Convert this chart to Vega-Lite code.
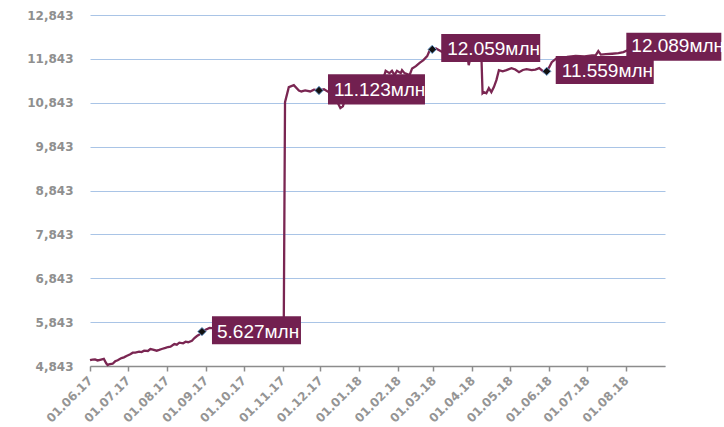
{
  "$schema": "https://vega.github.io/schema/vega-lite/v6.json",
  "autosize": {"type": "none"},
  "padding": {"left": 90, "top": 15, "right": 59, "bottom": 61},
  "width": 575,
  "height": 351,
  "background": "white",
  "view": {"stroke": null},
  "datasets": {
    "series": [
      {"date": "2017-06-01", "value": 4975}, {"date": "2017-06-03", "value": 4990}, {"date": "2017-06-05", "value": 4995},
      {"date": "2017-06-07", "value": 4970}, {"date": "2017-06-09", "value": 4985}, {"date": "2017-06-12", "value": 5005},
      {"date": "2017-06-14", "value": 4900}, {"date": "2017-06-15", "value": 4866}, {"date": "2017-06-16", "value": 4880},
      {"date": "2017-06-19", "value": 4895}, {"date": "2017-06-21", "value": 4950}, {"date": "2017-06-23", "value": 4975},
      {"date": "2017-06-26", "value": 5025}, {"date": "2017-06-28", "value": 5040}, {"date": "2017-06-30", "value": 5071},
      {"date": "2017-07-03", "value": 5110}, {"date": "2017-07-05", "value": 5146}, {"date": "2017-07-07", "value": 5150},
      {"date": "2017-07-10", "value": 5169}, {"date": "2017-07-12", "value": 5160}, {"date": "2017-07-14", "value": 5192},
      {"date": "2017-07-17", "value": 5185}, {"date": "2017-07-19", "value": 5230}, {"date": "2017-07-21", "value": 5215},
      {"date": "2017-07-24", "value": 5192}, {"date": "2017-07-26", "value": 5210}, {"date": "2017-07-28", "value": 5230},
      {"date": "2017-07-31", "value": 5255}, {"date": "2017-08-02", "value": 5276}, {"date": "2017-08-04", "value": 5283},
      {"date": "2017-08-07", "value": 5344}, {"date": "2017-08-09", "value": 5330}, {"date": "2017-08-11", "value": 5374},
      {"date": "2017-08-14", "value": 5360}, {"date": "2017-08-16", "value": 5397}, {"date": "2017-08-18", "value": 5385},
      {"date": "2017-08-21", "value": 5419}, {"date": "2017-08-23", "value": 5481}, {"date": "2017-08-25", "value": 5526},
      {"date": "2017-08-28", "value": 5580}, {"date": "2017-08-29", "value": 5627}, {"date": "2017-08-31", "value": 5660},
      {"date": "2017-09-04", "value": 5710}, {"date": "2017-09-12", "value": 5690}, {"date": "2017-09-20", "value": 5720},
      {"date": "2017-10-01", "value": 5740}, {"date": "2017-10-10", "value": 5720}, {"date": "2017-10-20", "value": 5760},
      {"date": "2017-10-31", "value": 5780}, {"date": "2017-11-02", "value": 5790}, {"date": "2017-11-03", "value": 10857},
      {"date": "2017-11-06", "value": 11199}, {"date": "2017-11-10", "value": 11244}, {"date": "2017-11-14", "value": 11120},
      {"date": "2017-11-16", "value": 11100}, {"date": "2017-11-19", "value": 11125}, {"date": "2017-11-23", "value": 11100},
      {"date": "2017-11-26", "value": 11140}, {"date": "2017-11-30", "value": 11123}, {"date": "2017-12-04", "value": 11150},
      {"date": "2017-12-08", "value": 11080}, {"date": "2017-12-13", "value": 10950}, {"date": "2017-12-17", "value": 10720},
      {"date": "2017-12-19", "value": 10760}, {"date": "2017-12-21", "value": 10950}, {"date": "2017-12-26", "value": 11100},
      {"date": "2017-12-29", "value": 11200}, {"date": "2018-01-05", "value": 11250}, {"date": "2018-01-10", "value": 11300},
      {"date": "2018-01-15", "value": 11350}, {"date": "2018-01-19", "value": 11420}, {"date": "2018-01-21", "value": 11472},
      {"date": "2018-01-22", "value": 11570}, {"date": "2018-01-25", "value": 11518}, {"date": "2018-01-27", "value": 11570},
      {"date": "2018-01-29", "value": 11472}, {"date": "2018-01-31", "value": 11570}, {"date": "2018-02-03", "value": 11518},
      {"date": "2018-02-04", "value": 11586}, {"date": "2018-02-06", "value": 11518}, {"date": "2018-02-10", "value": 11472},
      {"date": "2018-02-12", "value": 11625}, {"date": "2018-02-15", "value": 11677}, {"date": "2018-02-18", "value": 11752},
      {"date": "2018-02-21", "value": 11814}, {"date": "2018-02-24", "value": 11905}, {"date": "2018-02-26", "value": 12041},
      {"date": "2018-02-28", "value": 12059}, {"date": "2018-03-03", "value": 12080}, {"date": "2018-03-08", "value": 12000},
      {"date": "2018-03-13", "value": 12050}, {"date": "2018-03-18", "value": 11980}, {"date": "2018-03-23", "value": 12020},
      {"date": "2018-03-28", "value": 11900}, {"date": "2018-03-29", "value": 11700}, {"date": "2018-03-31", "value": 11950},
      {"date": "2018-04-04", "value": 12000}, {"date": "2018-04-08", "value": 11980}, {"date": "2018-04-09", "value": 11060},
      {"date": "2018-04-10", "value": 11085}, {"date": "2018-04-12", "value": 11060}, {"date": "2018-04-14", "value": 11176},
      {"date": "2018-04-16", "value": 11085}, {"date": "2018-04-18", "value": 11200}, {"date": "2018-04-20", "value": 11358},
      {"date": "2018-04-22", "value": 11586}, {"date": "2018-04-25", "value": 11560}, {"date": "2018-04-28", "value": 11586},
      {"date": "2018-05-02", "value": 11632}, {"date": "2018-05-05", "value": 11600}, {"date": "2018-05-08", "value": 11540},
      {"date": "2018-05-11", "value": 11590}, {"date": "2018-05-14", "value": 11608}, {"date": "2018-05-18", "value": 11586},
      {"date": "2018-05-21", "value": 11600}, {"date": "2018-05-24", "value": 11632}, {"date": "2018-05-28", "value": 11540},
      {"date": "2018-05-30", "value": 11559}, {"date": "2018-06-01", "value": 11654}, {"date": "2018-06-03", "value": 11768},
      {"date": "2018-06-08", "value": 11882}, {"date": "2018-06-15", "value": 11890}, {"date": "2018-06-22", "value": 11910},
      {"date": "2018-06-29", "value": 11900}, {"date": "2018-07-05", "value": 11920}, {"date": "2018-07-08", "value": 11928},
      {"date": "2018-07-10", "value": 12019}, {"date": "2018-07-12", "value": 11940}, {"date": "2018-07-16", "value": 11950},
      {"date": "2018-07-21", "value": 11960}, {"date": "2018-07-26", "value": 11973}, {"date": "2018-07-30", "value": 11996},
      {"date": "2018-08-03", "value": 12050}, {"date": "2018-08-07", "value": 12070}, {"date": "2018-08-10", "value": 12089}
    ],
    "labels": [
      {"date": "2017-08-29", "value": 5627, "label": "5.627млн", "pos": "right"},
      {"date": "2017-11-30", "value": 11123, "label": "11.123млн", "pos": "right"},
      {"date": "2018-02-28", "value": 12059, "label": "12.059млн", "pos": "right"},
      {"date": "2018-05-30", "value": 11559, "label": "11.559млн", "pos": "right"},
      {"date": "2018-08-10", "value": 12089, "label": "12.089млн", "pos": "over"}
    ]
  },
  "encoding": {
    "x": {
      "field": "date", "type": "temporal",
      "scale": {"type": "utc", "domain": [{"year": 2017, "month": 6, "date": 1, "utc": true}, {"year": 2018, "month": 9, "date": 1, "utc": true}]},
      "axis": {
        "title": null,
        "values": [
          {"year": 2017, "month": 6, "date": 1, "utc": true}, {"year": 2017, "month": 7, "date": 1, "utc": true},
          {"year": 2017, "month": 8, "date": 1, "utc": true}, {"year": 2017, "month": 9, "date": 1, "utc": true},
          {"year": 2017, "month": 10, "date": 1, "utc": true}, {"year": 2017, "month": 11, "date": 1, "utc": true},
          {"year": 2017, "month": 12, "date": 1, "utc": true}, {"year": 2018, "month": 1, "date": 1, "utc": true},
          {"year": 2018, "month": 2, "date": 1, "utc": true}, {"year": 2018, "month": 3, "date": 1, "utc": true},
          {"year": 2018, "month": 4, "date": 1, "utc": true}, {"year": 2018, "month": 5, "date": 1, "utc": true},
          {"year": 2018, "month": 6, "date": 1, "utc": true}, {"year": 2018, "month": 7, "date": 1, "utc": true},
          {"year": 2018, "month": 8, "date": 1, "utc": true}
        ],
        "labelExpr": "utcFormat(datum.value, '%d.%m.%y')",
        "labelAngle": -45, "labelAlign": "right", "labelBaseline": "middle",
        "labelPadding": 7, "tickSize": 5, "grid": false,
        "domainColor": "#8c8c8c", "tickColor": "#8c8c8c", "domainWidth": 1.5, "tickWidth": 1.5,
        "labelFont": "DejaVu Sans", "labelFontSize": 12, "labelFontWeight": "bold", "labelColor": "#959595",
        "labelOverlap": false, "labelFlush": false, "labelBound": false
      }
    },
    "y": {
      "field": "value", "type": "quantitative",
      "scale": {"domain": [4843, 12843], "zero": false, "nice": false},
      "axis": {
        "title": null,
        "values": [4843, 5843, 6843, 7843, 8843, 9843, 10843, 11843, 12843],
        "format": ",d", "domain": false, "ticks": false, "grid": true,
        "gridColor": "#a9c4e6", "gridWidth": 1,
        "labelPadding": 17, "labelFont": "DejaVu Sans", "labelFontSize": 12, "labelFontWeight": "bold", "labelColor": "#8f8f8f"
      }
    }
  },
  "layer": [
    {
      "data": {"name": "series"},
      "mark": {"type": "line", "color": "#7a2652", "strokeWidth": 2.3, "interpolate": "linear"}
    },
    {
      "data": {"name": "labels"},
      "mark": {"type": "point", "shape": "diamond", "filled": true, "size": 70, "color": "#111111", "stroke": "#6f9fd0", "strokeWidth": 1, "opacity": 1}
    },
    {
      "data": {"name": "labels"},
      "mark": {"type": "point", "filled": true, "size": 784, "opacity": 1, "color": "#722050", "strokeWidth": 0},
      "encoding": {
        "shape": {
          "field": "label", "type": "nominal", "legend": null,
          "scale": {
            "domain": ["5.627млн", "11.123млн", "12.059млн", "11.559млн", "12.089млн"],
            "range": [
              "M0.714,-1.1H7.071V0.9H0.714Z",
              "M0.643,-1.15H7.571V1.0H0.643Z",
              "M0.643,-1.1H7.714V0.9H0.643Z",
              "M0.643,-1.1H7.643V0.9H0.643Z",
              "M-0.786,-1.1H6.0V0.9H-0.786Z"
            ]
          }
        }
      }
    },
    {
      "data": {"name": "labels"},
      "transform": [{"filter": "datum.pos === 'right'"}],
      "mark": {"type": "text", "align": "left", "baseline": "middle", "dx": 15, "dy": 0, "font": "Liberation Sans", "fontSize": 19, "color": "white"},
      "encoding": {"text": {"field": "label"}}
    },
    {
      "data": {"name": "labels"},
      "transform": [{"filter": "datum.pos === 'over'"}],
      "mark": {"type": "text", "align": "left", "baseline": "middle", "dx": -6, "dy": -2, "font": "Liberation Sans", "fontSize": 19, "color": "white"},
      "encoding": {"text": {"field": "label"}}
    }
  ]
}
